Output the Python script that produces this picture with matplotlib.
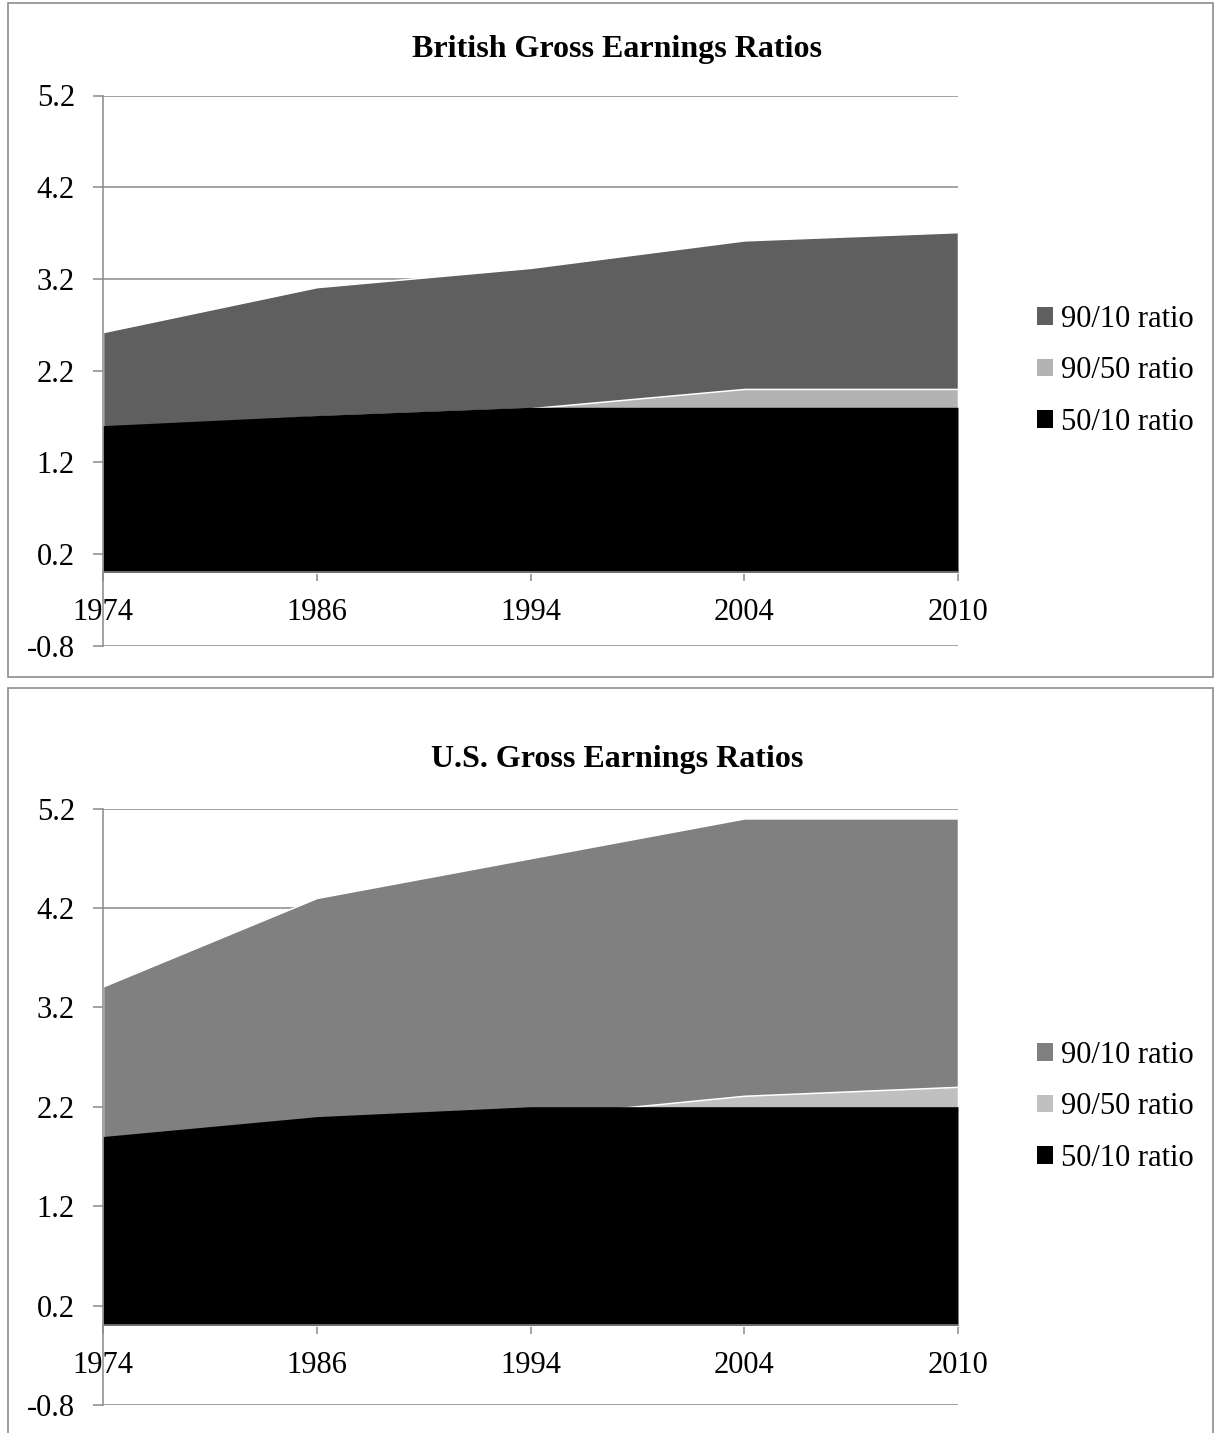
import numpy as np
import matplotlib
matplotlib.use("Agg")
import matplotlib.pyplot as plt
from matplotlib.patches import Patch, Rectangle

plt.rcParams["font.family"] = ["Liberation Serif", "DejaVu Serif"]
plt.rcParams["axes.unicode_minus"] = False

# Earnings ratios by year
years = ["1974", "1986", "1994", "2004", "2010"]

uk_90_10 = [2.62, 3.11, 3.32, 3.62, 3.71]
uk_90_50 = [1.55, 1.70, 1.79, 2.00, 2.00]
uk_50_10 = [1.60, 1.71, 1.80, 1.80, 1.80]

us_90_10 = [3.41, 4.30, 4.70, 5.10, 5.10]
us_90_50 = [1.80, 2.00, 2.10, 2.31, 2.40]
us_50_10 = [1.90, 2.10, 2.20, 2.20, 2.20]

y_ticks = [-0.8, 0.2, 1.2, 2.2, 3.2, 4.2, 5.2]
y_labels = ["-0.8", "0.2", "1.2", "2.2", "3.2", "4.2", "5.2"]
series_names = ["90/10 ratio", "90/50 ratio", "50/10 ratio"]

W, H = 1216, 1433
fig = plt.figure(figsize=(W / 100, H / 100), dpi=100)

axis_grey = "#898989"


def px_box(left, top, right, bottom):
    # convert a pixel box (origin top-left) to figure fractions
    return [left / W, 1 - bottom / H, (right - left) / W, (bottom - top) / H]


def draw_panel(ax, title, title_y, s90_10, s90_50, s50_10, dark, light):
    x = np.arange(len(years))
    ax.fill_between(x, 0, s90_10, color=dark, edgecolor="white", linewidth=1.1, zorder=1)
    ax.fill_between(x, 0, s90_50, color=light, edgecolor="white", linewidth=1.1, zorder=1.1)
    ax.fill_between(x, 0, s50_10, color="black", linewidth=0, zorder=1.2)

    ax.set_xlim(0, len(years) - 1)
    ax.set_ylim(-0.8, 5.2)
    ax.set_yticks(y_ticks)
    ax.set_yticklabels(y_labels)
    ax.set_xticks(x)
    ax.set_xticklabels(years)

    ax.set_axisbelow(True)
    ax.grid(axis="y", color=axis_grey, linewidth=1.1)
    ax.grid(axis="x", visible=False)

    for side in ["top", "right"]:
        ax.spines[side].set_visible(False)
    ax.spines["bottom"].set_position(("data", 0))
    ax.spines["bottom"].set_color(axis_grey)
    ax.spines["left"].set_color(axis_grey)
    ax.spines["bottom"].set_linewidth(1.1)
    ax.spines["left"].set_linewidth(1.1)

    ax.tick_params(axis="y", direction="out", length=7.2, width=1.1, color=axis_grey,
                   pad=13, labelsize=22)
    ax.tick_params(axis="x", direction="out", length=6.7, width=1.1, color=axis_grey,
                   pad=11.5, labelsize=22)
    ax.patch.set_alpha(0)

    handles = [Patch(facecolor=dark), Patch(facecolor=light), Patch(facecolor="black")]
    ax.legend(handles, series_names, loc="center left", bbox_to_anchor=(1.0749, 0.4995),
              frameon=False, fontsize=22, borderpad=0, handlelength=0.5, handleheight=0.5,
              handletextpad=0.26, labelspacing=0.735)

    fig.text(617 / W, 1 - title_y / H, title, ha="center", va="center",
             fontsize=23, fontweight="bold")


# chart borders
fig.add_artist(Rectangle((8 / W, 1 - 677 / H), 1205 / W, 674 / H, transform=fig.transFigure,
                         fill=False, edgecolor="#8c8c8c", linewidth=1.2))
fig.add_artist(Rectangle((8 / W, -0.05), 1205 / W, 1 - 688 / H + 0.05, transform=fig.transFigure,
                         fill=False, edgecolor="#8c8c8c", linewidth=1.2))

ax_uk = fig.add_axes(px_box(103, 95.5, 958, 645.7))
draw_panel(ax_uk, "British Gross Earnings Ratios", 49, uk_90_10, uk_90_50, uk_50_10,
           "#5f5f5f", "#b3b3b3")

ax_us = fig.add_axes(px_box(103, 808.5, 958, 1404.9))
draw_panel(ax_us, "U.S. Gross Earnings Ratios", 760, us_90_10, us_90_50, us_50_10,
           "#808080", "#c0c0c0")

fig.savefig("out.png", dpi=100)
